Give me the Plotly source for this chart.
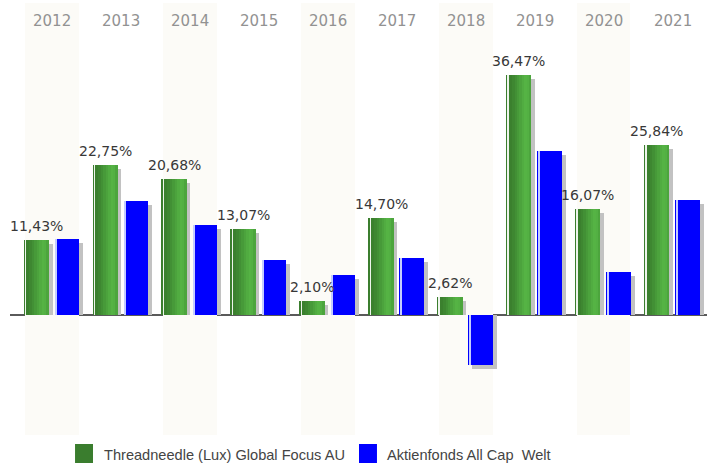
import plotly.graph_objects as go

# ---- data ----
years = ["2012", "2013", "2014", "2015", "2016", "2017", "2018", "2019", "2020", "2021"]
fund_values = [11.43, 22.75, 20.68, 13.07, 2.10, 14.70, 2.62, 36.47, 16.07, 25.84]
bench_values = [11.5, 17.3, 13.6, 8.4, 6.1, 8.7, -7.7, 25.0, 6.5, 17.4]
fund_name = "Threadneedle (Lux) Global Focus AU"
bench_name = "Aktienfonds All Cap \u00a0Welt"
band_years = years[0::2]

# ---- style ----
Y_MIN, Y_MAX = -18.35, 47.5
GREEN = "#3a7d2e"
BLUE = "#0000ff"
SHADOW = "#c2c2c2"
BAND = "#fcfbf7"
BW = 0.355
G_OFF = -0.405
B_OFF = 0.04
SH_DX = 0.058
SH_DY = 0.61
PX_PER_CAT = 68.95

green_strips = [
    (0.00, 0.05, "#3b7e2e"),
    (0.05, 0.09, "#eef4ec"),
    (0.09, 0.22, "#3b802e"),
    (0.22, 0.32, "#3e8731"),
    (0.32, 0.42, "#429035"),
    (0.42, 0.52, "#479a39"),
    (0.52, 0.62, "#4ca33d"),
    (0.62, 0.72, "#51ac41"),
    (0.72, 0.82, "#55b344"),
    (0.82, 0.91, "#53b043"),
    (0.91, 1.00, "#4ca53d"),
]
blue_strips = [
    (0.05, 0.11, "#c4ccff"),
]

fig = go.Figure()

# background bands for alternating years
fig.add_trace(go.Bar(
    x=band_years, y=[Y_MAX - Y_MIN] * len(band_years), base=Y_MIN,
    width=0.78, offset=-0.39, marker=dict(color=BAND, line=dict(width=0)),
    showlegend=False, hoverinfo="skip"))

# shadows
for vals, off in ((fund_values, G_OFF), (bench_values, B_OFF)):
    fig.add_trace(go.Bar(
        x=years, y=[v - SH_DY for v in vals], width=BW, offset=off + SH_DX,
        marker=dict(color=SHADOW, line=dict(width=0)),
        showlegend=False, hoverinfo="skip"))

# fund bars (gradient strips)
for s, e, c in green_strips:
    fig.add_trace(go.Bar(
        x=years, y=fund_values, width=(e - s) * BW + 0.004, offset=G_OFF + s * BW,
        marker=dict(color=c, line=dict(width=0)),
        showlegend=False, hoverinfo="skip"))

# benchmark bars
fig.add_trace(go.Bar(
    x=years, y=bench_values, width=BW, offset=B_OFF,
    marker=dict(color=BLUE, line=dict(width=0)),
    showlegend=False, hoverinfo="skip"))
for s, e, c in blue_strips:
    fig.add_trace(go.Bar(
        x=years, y=bench_values, width=(e - s) * BW, offset=B_OFF + s * BW,
        marker=dict(color=c, line=dict(width=0)),
        showlegend=False, hoverinfo="skip"))

annotations = []
# value labels on fund bars
for i, v in enumerate(fund_values):
    annotations.append(dict(
        x=i, y=v, xref="x", yref="y", text=f"{v:.2f}".replace(".", ",") + "%",
        showarrow=False, xanchor="center", yanchor="bottom",
        xshift=(G_OFF + BW / 2) * PX_PER_CAT, yshift=4,
        font=dict(family="DejaVu Sans", size=14, color="#383838")))
# year labels at top
for i, yr in enumerate(years):
    annotations.append(dict(
        x=i, y=1, xref="x", yref="paper", text=yr, showarrow=False,
        xanchor="center", yanchor="middle", yshift=-17.5,
        font=dict(family="DejaVu Sans", size=15, color="#929292")))
# legend
legend_items = [(fund_name, GREEN, 0.0933, 0.132), (bench_name, BLUE, 0.5007, 0.538)]
shapes = []
for name, col, sx, tx in legend_items:
    shapes.append(dict(type="rect", xref="paper", yref="paper",
                       x0=sx, x1=sx + 0.0258, y0=-0.0648, y1=-0.0208,
                       fillcolor=col, line=dict(width=0)))
    annotations.append(dict(
        x=tx, y=-0.0463, xref="paper", yref="paper", text=name, showarrow=False,
        xanchor="left", yanchor="middle",
        font=dict(family="Liberation Sans", size=14.6, color="#444444")))

fig.update_layout(
    width=707, height=464,
    margin=dict(l=10, r=0, t=3, b=29),
    barmode="overlay",
    paper_bgcolor="white", plot_bgcolor="white",
    showlegend=False,
    xaxis=dict(type="category", categoryorder="array", categoryarray=years,
               range=[-0.609, 9.5], showticklabels=False,
               showgrid=False, zeroline=False, showline=False, ticks=""),
    yaxis=dict(range=[Y_MIN, Y_MAX], showticklabels=False, showgrid=False,
               zeroline=True, zerolinecolor="#5a5a5a", zerolinewidth=1.6,
               showline=False, ticks=""),
    annotations=annotations,
    shapes=shapes,
    bargap=0,
)

fig.write_html("out.html", config={"displayModeBar": False},
               post_script="document.body.style.margin='0px';")
